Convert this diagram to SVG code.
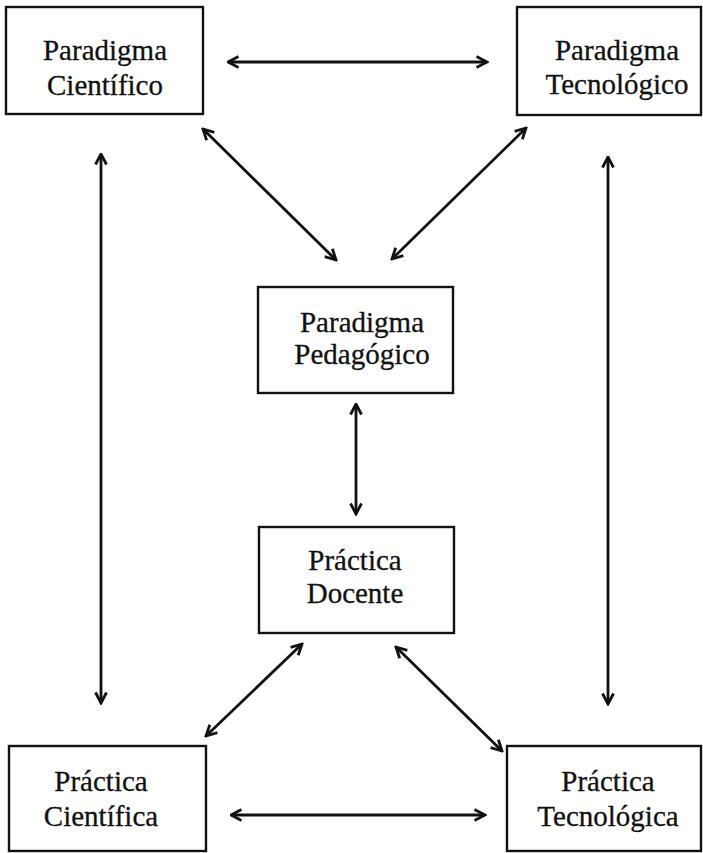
<svg xmlns="http://www.w3.org/2000/svg" width="703" height="853" viewBox="0 0 703 853">
  <defs>
    <style>
      .box { fill: #ffffff; stroke: #111111; stroke-width: 2.4; }
      .lbl { font-family: "Liberation Serif", "Times New Roman", serif; font-size: 29px; fill: #111111; stroke: #111111; stroke-width: 0.3; text-anchor: middle; }
      .conn { stroke: #111111; stroke-width: 2.8; fill: none; marker-start: url(#arr); marker-end: url(#arr); }
    </style>
    <marker id="arr" viewBox="0 0 14 14" refX="12.5" refY="7" markerWidth="14" markerHeight="14" markerUnits="userSpaceOnUse" orient="auto-start-reverse">
      <path d="M2,1.5 L12.5,7 L2,12.5" fill="none" stroke="#111111" stroke-width="2.8" stroke-linejoin="miter"/>
    </marker>
  </defs>
  <rect x="0" y="0" width="703" height="853" fill="#ffffff"/>

  <g id="connectors">
    <line class="conn" x1="228" y1="62" x2="487" y2="62"/>
    <line class="conn" x1="203" y1="129" x2="336" y2="260"/>
    <line class="conn" x1="526" y1="128" x2="392" y2="259"/>
    <line class="conn" x1="101" y1="154" x2="101" y2="703"/>
    <line class="conn" x1="608" y1="157" x2="608" y2="704"/>
    <line class="conn" x1="356" y1="404" x2="356" y2="514"/>
    <line class="conn" x1="302" y1="644" x2="206" y2="736"/>
    <line class="conn" x1="396" y1="647" x2="502" y2="751"/>
    <line class="conn" x1="231" y1="815" x2="485" y2="815"/>
  </g>

  <g id="paradigma-cientifico">
    <rect class="box" x="6" y="7" width="197" height="107"/>
    <text class="lbl" x="105" y="60">Paradigma</text>
    <text class="lbl" x="105" y="95">Científico</text>
  </g>

  <g id="paradigma-tecnologico">
    <rect class="box" x="517" y="7" width="184" height="108"/>
    <text class="lbl" x="617" y="60">Paradigma</text>
    <text class="lbl" x="617" y="94">Tecnológico</text>
  </g>

  <g id="paradigma-pedagogico">
    <rect class="box" x="258" y="287" width="195" height="106"/>
    <text class="lbl" x="362" y="332">Paradigma</text>
    <text class="lbl" x="362" y="364">Pedagógico</text>
  </g>

  <g id="practica-docente">
    <rect class="box" x="259" y="527" width="195" height="106"/>
    <text class="lbl" x="355" y="570">Práctica</text>
    <text class="lbl" x="355" y="603">Docente</text>
  </g>

  <g id="practica-cientifica">
    <rect class="box" x="9" y="746" width="197" height="105"/>
    <text class="lbl" x="101" y="791">Práctica</text>
    <text class="lbl" x="101" y="826">Científica</text>
  </g>

  <g id="practica-tecnologica">
    <rect class="box" x="507" y="746" width="194" height="105"/>
    <text class="lbl" x="608" y="791">Práctica</text>
    <text class="lbl" x="608" y="826">Tecnológica</text>
  </g>
</svg>
